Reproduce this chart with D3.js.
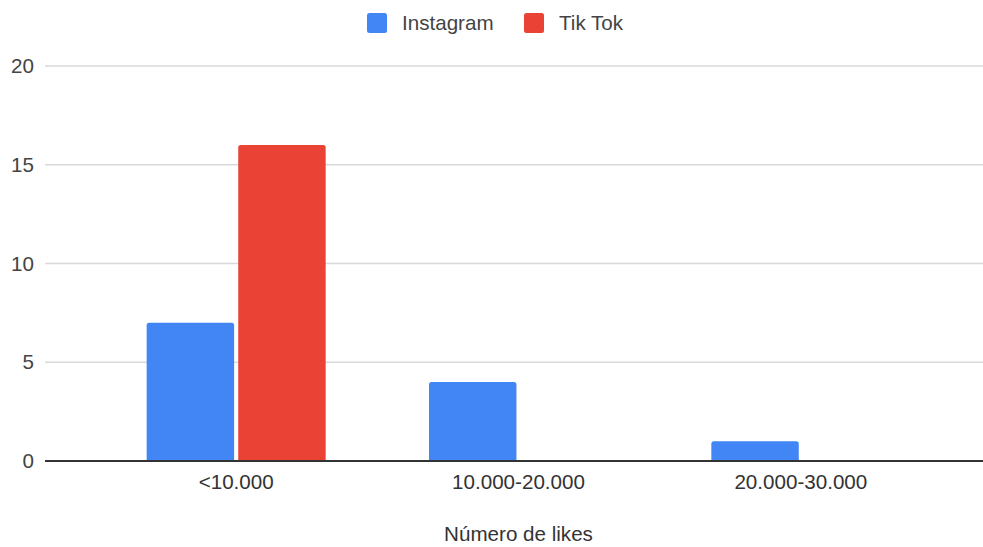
<!DOCTYPE html>
<html><head><meta charset="utf-8">
<script src="https://cdn.jsdelivr.net/npm/d3@7"></script>
<style>html,body{margin:0;padding:0;background:#fff;}svg{display:block;}text{font-family:"Liberation Sans",Arial,sans-serif;}</style>
</head><body>
<svg id="chart" width="983" height="547"></svg>
<script>
const categories = ["<10.000", "10.000-20.000", "20.000-30.000"];
const seriesNames = ["Instagram", "Tik Tok"];
const instagram = [7, 4, 1];
const tiktok = [16, 0, 0];
const yTicks = [0, 5, 10, 15, 20];
const colors = ["#4285F4", "#EA4335"];
const xTitle = "Número de likes";

const FS = 20.6;
const svg = d3.select("#chart");
const gridLeft = 45, gridRight = 983;
const y = d3.scaleLinear().domain([0, 20]).range([461, 66]);
const x0 = d3.scaleBand().domain(categories).range([95, 942]).paddingInner(0.366).paddingOuter(0.183);
const x1 = d3.scaleBand().domain(seriesNames).range([0, x0.bandwidth()]).paddingInner(0.045);
const values = [instagram, tiktok];

// gridlines
svg.append("g").selectAll("line").data(yTicks.filter(d => d !== 0)).join("line")
  .attr("x1", gridLeft).attr("x2", gridRight)
  .attr("y1", d => y(d)).attr("y2", d => y(d))
  .attr("stroke", "#d9d9d9").attr("stroke-width", 1.5);

// y axis labels
const yAxis = d3.axisLeft(y).tickValues(yTicks).tickSize(0).tickPadding(0);
const ya = svg.append("g").attr("transform", "translate(34,0)").call(yAxis);
ya.select(".domain").remove();
ya.selectAll("text").attr("font-size", FS).attr("fill", "#444").attr("font-family", "'Liberation Sans', Arial, sans-serif");

// bars
function barPath(x, yTop, w, yBase, r) {
  const h = yBase - yTop;
  if (h <= 0) return "";
  r = Math.min(r, h, w / 2);
  return `M${x},${yBase}V${yTop + r}Q${x},${yTop} ${x + r},${yTop}H${x + w - r}Q${x + w},${yTop} ${x + w},${yTop + r}V${yBase}Z`;
}
const data = [];
categories.forEach((c, i) => seriesNames.forEach((s, j) => data.push({c, s, j, v: values[j][i]})));
svg.append("g").selectAll("path").data(data.filter(d => d.v > 0)).join("path")
  .attr("d", d => barPath(x0(d.c) + x1(d.s), y(d.v), x1.bandwidth(), y(0), 2.5))
  .attr("fill", d => colors[d.j]);

// baseline
svg.append("line").attr("x1", gridLeft).attr("x2", gridRight)
  .attr("y1", y(0)).attr("y2", y(0)).attr("stroke", "#333").attr("stroke-width", 2);

// x axis labels
const xAxis = d3.axisBottom(x0).tickSize(0).tickPadding(0);
const xa = svg.append("g").attr("transform", `translate(0,${y(0)})`).call(xAxis);
xa.select(".domain").remove();
xa.selectAll("text").attr("dy", null).attr("y", 28).attr("font-size", FS).attr("fill", "#333")
  .attr("font-family", "'Liberation Sans', Arial, sans-serif");

// x title
svg.append("text").attr("x", (x0.range()[0] + x0.range()[1]) / 2).attr("y", 541)
  .attr("text-anchor", "middle").attr("font-size", FS).attr("fill", "#333").text(xTitle);

// legend
const legendItems = [{name: seriesNames[0], x: 367, tx: 402}, {name: seriesNames[1], x: 524, tx: 559}];
const lg = svg.append("g");
legendItems.forEach((it, i) => {
  lg.append("rect").attr("x", it.x).attr("y", 13).attr("width", 20).attr("height", 20)
    .attr("rx", 2.5).attr("fill", colors[i]);
  lg.append("text").attr("x", it.tx).attr("y", 30).attr("font-size", FS).attr("fill", "#444").text(it.name);
});
</script>
</body></html>
